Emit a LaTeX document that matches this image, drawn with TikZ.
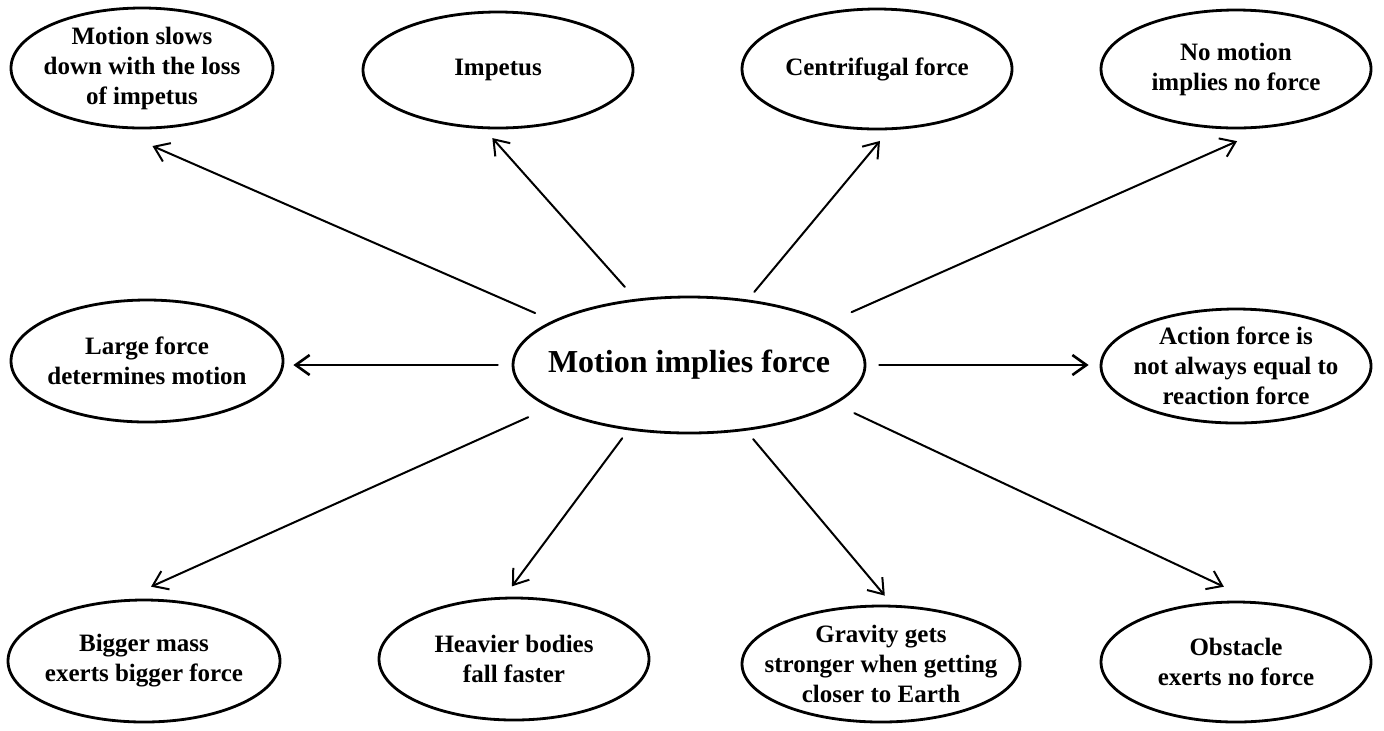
\documentclass[tikz,border=0pt]{standalone}
\usepackage{fontspec}
\setmainfont{Liberation Serif}
\usetikzlibrary{arrows.meta,shapes.geometric}

\begin{document}
\begin{tikzpicture}[x=0.5pt, y=-0.5pt, line cap=round,
    >={Straight Barb[length=7pt,width=10pt]},
    idea/.style={draw, ellipse, line width=1.4pt, minimum width=135pt, minimum height=60pt,
        inner xsep=-10pt, inner ysep=-4pt, align=center,
        font=\bfseries\fontsize{12.5}{15}\selectfont},
    link/.style={->, line width=1pt}]
    % Frame
    \useasboundingbox (0,0) rectangle (1384,730);

    % Central idea
    \node[idea, minimum width=176pt, minimum height=68pt, font=\bfseries\fontsize{16}{19}\selectfont]
        (mif) at (689,365) {Motion implies force};

    % Top row
    \node[idea, minimum width=131pt] (slow) at (142,68) {Motion slows\\down with the loss\\of impetus};
    \node[idea, minimum height=58pt] (imp) at (498,70) {Impetus};
    \node[idea] (cent) at (877,69) {Centrifugal force};
    \node[idea, minimum height=59pt] (nomo) at (1236,69) {No motion\\implies no force};

    % Middle row
    \node[idea, minimum width=136pt, minimum height=61pt] (large) at (147,361) {Large force\\determines motion};
    \node[idea, minimum height=57pt] (act) at (1236,366) {Action force is\\not always equal to\\reaction force};

    % Bottom row
    \node[idea, minimum width=136pt, minimum height=61pt] (big) at (144,661) {Bigger mass\\exerts bigger force};
    \node[idea, minimum height=61pt] (heavy) at (514,659) {Heavier bodies\\fall faster};
    \node[idea, minimum width=139pt, minimum height=58pt] (grav) at (881,664) {Gravity gets\\stronger when getting\\closer to Earth};
    \node[idea] (obst) at (1236,662) {Obstacle\\exerts no force};

    % Arrows up
    \draw[link, shorten <=9.5pt, shorten >=23pt] (mif.162) -- (slow.-118);
    \draw[link, shorten <=8pt, shorten >=6pt] (mif.129) -- (imp.-103);
    \draw[link, shorten <=5pt, shorten >=7pt] (mif.48) -- (cent.-79);
    \draw[link, shorten <=12.5pt, shorten >=16.5pt] (mif.17) -- (nomo.-62);

    % Arrows sideways
    \draw[link, line width=1.3pt, shorten <=7pt, shorten >=4.5pt] (mif.west) -- (mif.west -| large.east);
    \draw[link, line width=1.3pt, shorten <=6.5pt, shorten >=5.5pt] (mif.east) -- (mif.east -| act.west);

    % Arrows down
    \draw[link, shorten <=11.5pt, shorten >=15.5pt] (mif.-163) -- (big.109);
    \draw[link, shorten <=5pt, shorten >=6.5pt] (mif.-133) -- (heavy.99);
    \draw[link, shorten <=5.5pt, shorten >=6pt] (mif.-49) -- (grav.79);
    \draw[link, shorten <=10.5pt, shorten >=17pt] (mif.-15) -- (obst.73);
\end{tikzpicture}
\end{document}
